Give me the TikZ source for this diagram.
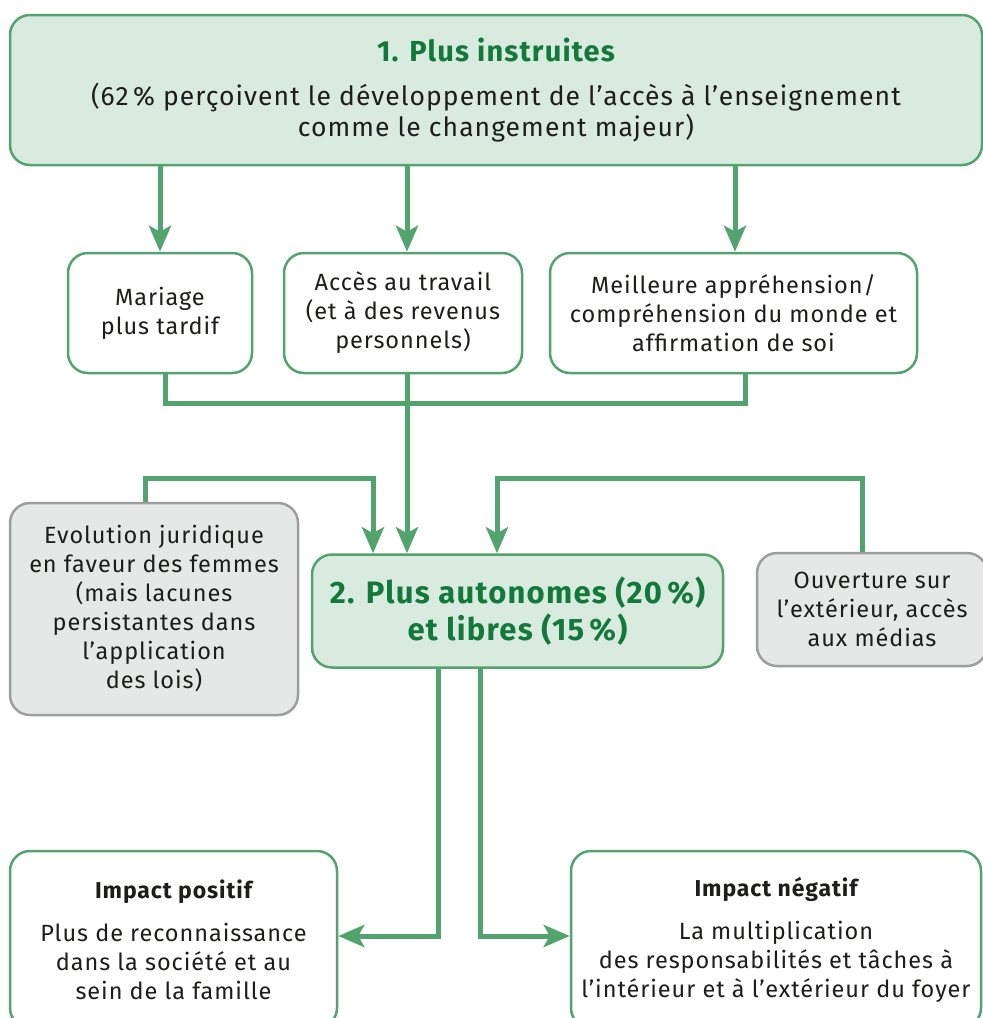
\documentclass[tikz,border=0pt]{standalone}
\usepackage{fontspec}
\setmainfont{Fira Sans}[LetterSpace=4]
\usetikzlibrary{arrows.meta}
\definecolor{lgreen}{HTML}{52A36D}
\definecolor{pgreen}{HTML}{D9EBDF}
\definecolor{dgreen}{HTML}{12793A}
\definecolor{lgray}{HTML}{E6E7E7}
\definecolor{bgray}{HTML}{9D9E9E}
\definecolor{ink}{HTML}{1D1D1B}
\tikzset{
  box/.style={rounded corners=20pt, line width=2.5pt, inner sep=0pt, align=center,
    text=ink, font=\fontsize{23.5}{29}\selectfont},
  greenbox/.style={box, draw=lgreen, fill=pgreen},
  whitebox/.style={box, draw=lgreen, fill=white},
  graybox/.style={box, draw=bgray, fill=lgray},
  link/.style={draw=lgreen, line width=5pt},
  arrow/.style={link, -{Stealth[length=26pt,width=22pt,inset=6pt]}},
}
\begin{document}
\begin{tikzpicture}[x=1pt,y=-1pt]
\clip (0,0) rectangle (983,1018);
% boxes
\node[greenbox, minimum width=972pt, minimum height=150pt, font=\fontsize{26.5}{31}\selectfont] (instr) at (496,90)
  {{\fontsize{29}{32}\selectfont\bfseries\color{dgreen}1. Plus instruites}\\[13pt]
   (62\,\% perçoivent le développement de l’accès à l’enseignement\\
   comme le changement majeur)};
\node[whitebox, minimum width=184pt, minimum height=120pt] (mariage) at (160,313)
  {Mariage\\plus tardif};
\node[whitebox, minimum width=238pt, minimum height=120pt] (acces) at (403,313)
  {Accès au travail\\(et à des revenus\\personnels)};
\node[whitebox, minimum width=367pt, minimum height=120pt] (meilleure) at (733.5,313)
  {Meilleure appréhension/\\compréhension du monde et\\affirmation de soi};
\node[greenbox, minimum width=411pt, minimum height=113pt, font=\fontsize{31}{37}\selectfont\bfseries, text=dgreen] (autonomes) at (517.5,611)
  {2. Plus autonomes (20\,\%)\\et libres (15\,\%)};
\node[graybox, minimum width=288pt, minimum height=212pt] (evolution) at (154,609)
  {Evolution juridique\\en faveur des femmes\\(mais lacunes\\persistantes dans\\l’application\\des lois)};
\node[graybox, minimum width=230pt, minimum height=113pt] (ouverture) at (872,609.5)
  {Ouverture sur\\l’extérieur, accès\\aux médias};
\node[whitebox, minimum width=327pt, minimum height=177pt] (positif) at (173.5,939.5)
  {{\fontsize{23}{29}\selectfont\bfseries Impact positif}\\[14pt]
   Plus de reconnaissance\\dans la société et au\\sein de la famille};
\node[whitebox, minimum width=410pt, minimum height=177pt] (negatif) at (776,939.5)
  {{\fontsize{23}{29}\selectfont\bfseries Impact négatif}\\[14pt]
   La multiplication\\des responsabilités et tâches à\\l’intérieur et à l’extérieur du foyer};
% connectors
\coordinate (hub) at (407,403);
\coordinate (lt) at (373,478);
\coordinate (rt) at (497,478);
\coordinate (bl) at (438,936);
\coordinate (br) at (480,936);
\draw[arrow] (instr.south -| mariage) -- (mariage.north);
\draw[arrow] ([xshift=4pt]acces.north |- instr.south) -- ([xshift=4pt]acces.north);
\draw[arrow] ([xshift=1.5pt]meilleure.north |- instr.south) -- ([xshift=1.5pt]meilleure.north);
\draw[link] ([xshift=5pt]mariage.south) |- (hub) -| ([xshift=11.5pt]meilleure.south);
\draw[arrow] (hub |- acces.south) -- (hub |- autonomes.north);
\draw[arrow] ([xshift=-9pt]evolution.north) |- (lt) -- (lt |- autonomes.north);
\draw[arrow] ([xshift=-10pt]ouverture.north) |- (rt) -- (rt |- autonomes.north);
\draw[arrow] (bl |- autonomes.south) -- (bl) -- (positif.east |- bl);
\draw[arrow] (br |- autonomes.south) -- (br) -- (negatif.west |- br);
\end{tikzpicture}
\end{document}
